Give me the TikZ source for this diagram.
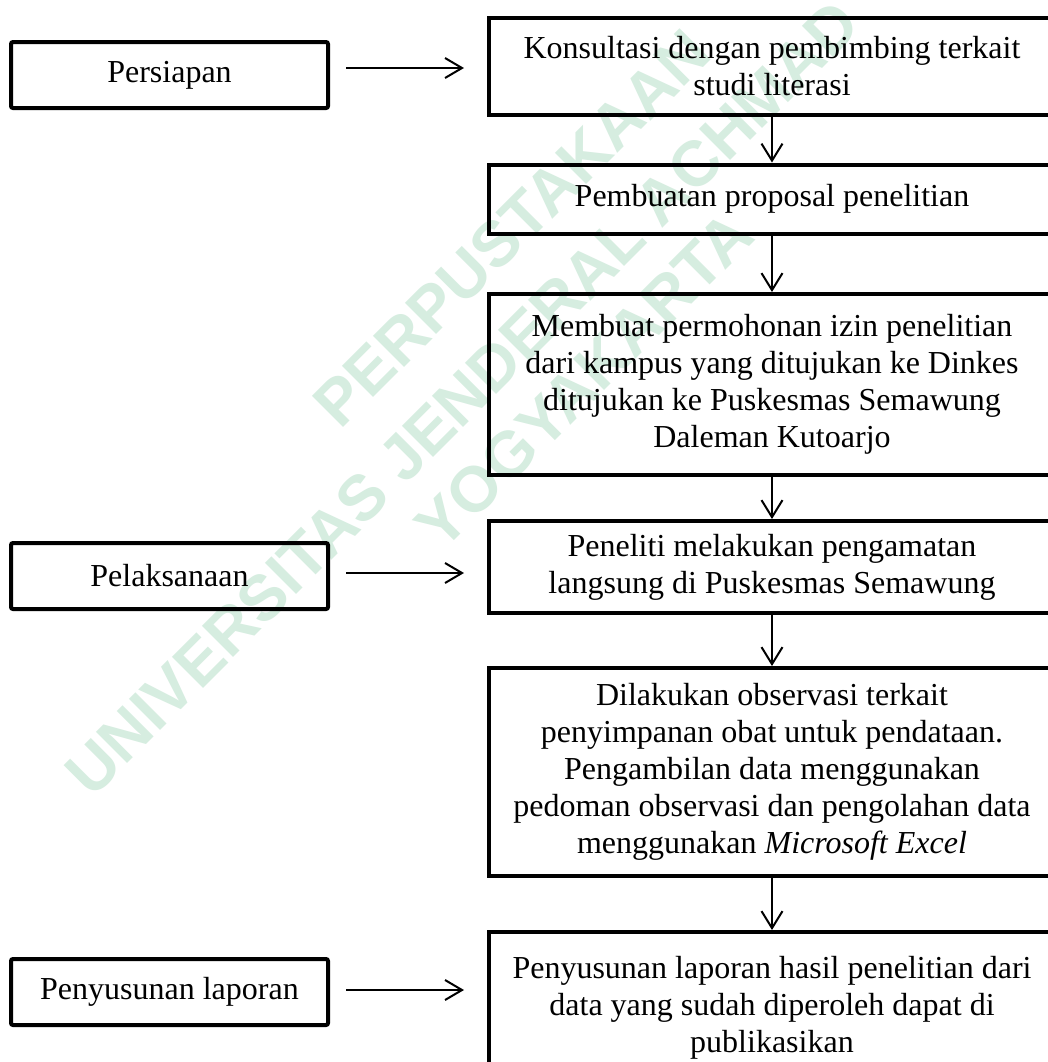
\documentclass[tikz,border=0pt]{standalone}
\usepackage{fontspec}
\setmainfont{Liberation Serif}
\newfontfamily\wmfont{Liberation Sans}
\usetikzlibrary{arrows.meta}
\definecolor{wmgreen}{RGB}{214,237,224}
\tikzset{
  rbox/.style={draw=black, line width=2pt, minimum width=283pt, align=center, inner sep=0pt,
    font=\fontsize{16pt}{18.5pt}\selectfont},
  lbox/.style={draw=black, line width=2pt, minimum width=158.5pt, minimum height=33pt, align=center, inner sep=0pt,
    font=\fontsize{16pt}{18.5pt}\selectfont, rounded corners=1pt},
  varr/.style={line width=1pt, -{Straight Barb[length=8.5pt,width=10.5pt,line width=1pt]}},
  harr/.style={line width=1pt, -{Straight Barb[length=8.5pt,width=10pt,line width=1pt]}},
  wm/.style={text=wmgreen, font=\wmfont\bfseries\fontsize{32pt}{36pt}\selectfont, rotate=45, inner sep=0pt}
}
\begin{document}
\begin{tikzpicture}[x=0.5pt,y=-0.5pt]
\useasboundingbox (0,0) rectangle (1048,1062);
\fill[white] (0,0) rectangle (1048,1062);
\clip (0,0) rectangle (1048,1062);
% watermark
\node[wm] (wm1) at (512,228) {PERPUSTAKAAN};
\node[wm] (wm2) at (462,398) {UNIVERSITAS JENDERAL ACHMAD};
\node[wm] (wm3) at (584,380) {YOGYAKARTA};
% right column
\node[rbox, minimum height=48.5pt] (b1) at (772,66.5) {Konsultasi dengan pembimbing terkait\\studi literasi};
\node[rbox, minimum height=34.5pt] (b2) at (772,199) {Pembuatan proposal penelitian};
\node[rbox, minimum height=90.5pt] (b3) at (772,384.5) {Membuat permohonan izin penelitian\\dari kampus yang ditujukan ke Dinkes\\ditujukan ke Puskesmas Semawung\\Daleman Kutoarjo};
\node[rbox, minimum height=46pt] (b4) at (772,567) {Peneliti melakukan pengamatan\\langsung di Puskesmas Semawung};
\node[rbox, minimum height=104pt] (b5) at (772,772) {Dilakukan observasi terkait\\penyimpanan obat untuk pendataan.\\Pengambilan data menggunakan\\pedoman observasi dan pengolahan data\\menggunakan \textit{Microsoft Excel}};
\node[rbox, minimum height=76pt] (b6) at (772,1008) {Penyusunan laporan hasil penelitian dari\\data yang sudah diperoleh dapat di\\publikasikan};
% left column
\node[lbox] (pers) at (169.5,75) {Persiapan};
\node[lbox] (pela) at (169.5,576) {Pelaksanaan};
\node[lbox] (peny) at (169.5,992) {Penyusunan laporan};
% vertical arrows
\draw[varr] (b1.south) -- (b2.north);
\draw[varr] (b2.south) -- (b3.north);
\draw[varr] (b3.south) -- (b4.north);
\draw[varr] (b4.south) -- (b5.north);
\draw[varr] (b5.south) -- (b6.north);
% horizontal arrows
\draw[harr] ([xshift=8pt,yshift=3.5pt]pers.east) -- ++(59pt,0);
\draw[harr] ([xshift=8pt,yshift=1.5pt]pela.east) -- ++(59pt,0);
\draw[harr] ([xshift=8pt,yshift=1pt]peny.east) -- ++(59pt,0);
\end{tikzpicture}
\end{document}
